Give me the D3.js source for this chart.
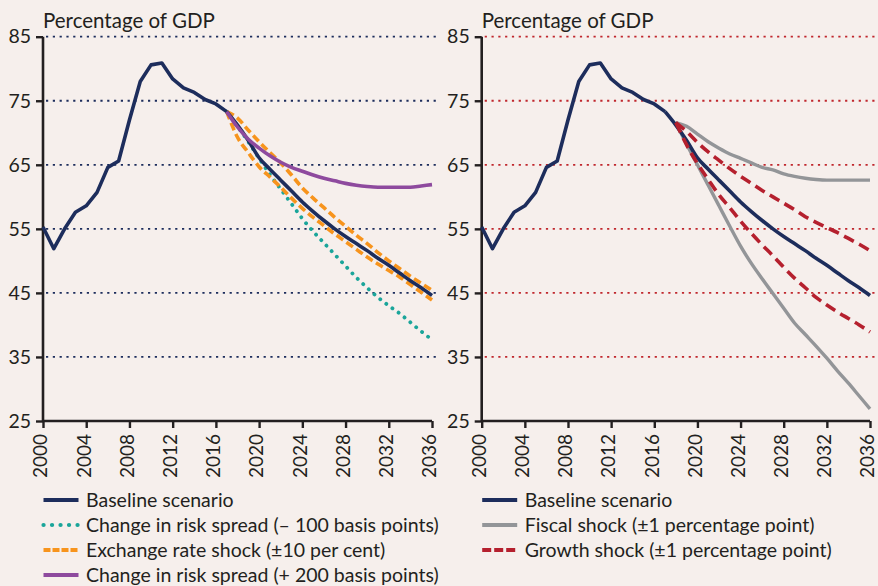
<!DOCTYPE html>
<html>
<head>
<meta charset="utf-8">
<script src="https://cdn.jsdelivr.net/npm/d3@7/dist/d3.min.js"></script>
<style>
  html, body { margin: 0; padding: 0; background: #F6EFEC; }
  svg { display: block; }
  text { font-family: Lato, "Open Sans", sans-serif; fill: #231F20; }
</style>
</head>
<body>
<svg id="chart" width="878" height="586"></svg>
<script>
// ---------- DATA ----------
const years = [2000,2001,2002,2003,2004,2005,2006,2007,2008,2009,2010,2011,2012,2013,2014,2015,2016,2017,2018,2019,2020,2021,2022,2023,2024,2025,2026,2027,2028,2029,2030,2031,2032,2033,2034,2035,2036];
const baseline = [55.3,51.9,55.0,57.6,58.6,60.7,64.6,65.6,72.0,78.0,80.6,80.9,78.4,77.0,76.3,75.2,74.5,73.3,71.2,68.8,66.1,64.3,62.6,60.9,59.2,57.7,56.3,55.0,53.8,52.7,51.6,50.4,49.3,48.1,46.9,45.8,44.6];

// Left panel scenarios (2017-2036)
const leftYears = [2017,2018,2019,2020,2021,2022,2023,2024,2025,2026,2027,2028,2029,2030,2031,2032,2033,2034,2035,2036];
const riskMinus100 = [73.3,71.0,68.6,66.0,63.5,61.2,58.9,56.6,54.6,52.8,51.0,49.2,47.4,45.8,44.3,43.0,41.8,40.4,39.0,37.7];
const fxUpper = [73.3,72.3,70.4,68.6,66.9,65.3,63.4,61.4,59.8,58.3,56.8,55.4,54.0,52.7,51.3,50.0,48.8,47.6,46.5,45.4];
const fxLower = [73.3,69.3,66.9,64.7,63.1,61.5,59.8,58.2,56.8,55.5,54.2,53.0,51.8,50.6,49.5,48.5,47.5,46.3,45.1,43.9];
const riskPlus200 = [73.3,70.9,69.0,67.6,66.4,65.4,64.6,64.0,63.4,62.9,62.5,62.1,61.8,61.6,61.5,61.5,61.5,61.5,61.7,61.9];

// Right panel scenarios (2018-2036)
const rightYears = [2018,2019,2020,2021,2022,2023,2024,2025,2026,2027,2028,2029,2030,2031,2032,2033,2034,2035,2036];
const fiscalUpper = [71.6,71.0,69.8,68.6,67.6,66.7,66.0,65.3,64.6,64.2,63.6,63.2,62.9,62.7,62.6,62.6,62.6,62.6,62.6];
const fiscalLower = [71.6,68.2,65.0,61.8,58.6,55.4,52.3,49.6,47.2,44.9,42.6,40.3,38.5,36.7,34.8,32.8,30.9,28.9,26.9];
const growthUpper = [71.6,70.2,68.5,67.0,65.7,64.4,63.2,62.1,61.0,60.0,59.0,58.0,56.9,56.0,55.2,54.4,53.5,52.6,51.6];
const growthLower = [71.6,68.1,65.2,62.7,60.3,58.3,56.2,54.3,52.5,50.8,49.0,47.3,45.8,44.3,43.1,42.0,41.0,40.0,38.9];

const yTicks = [25,35,45,55,65,75,85];
const xTicks = [2000,2004,2008,2012,2016,2020,2024,2028,2032,2036];
const yTitle = "Percentage of GDP";

const leftLegend = [
  {label: "Baseline scenario", key: "base"},
  {label: "Change in risk spread (\u2013 100 basis points)", key: "teal"},
  {label: "Exchange rate shock (\u00b110 per cent)", key: "orange"},
  {label: "Change in risk spread (+ 200 basis points)", key: "purple"}
];
const rightLegend = [
  {label: "Baseline scenario", key: "base"},
  {label: "Fiscal shock (\u00b11 percentage point)", key: "gray"},
  {label: "Growth shock (\u00b11 percentage point)", key: "red"}
];

// ---------- STYLES ----------
const styles = {
  base:   {stroke: "#1D2D5C", width: 3.6, dash: null, cap: "butt"},
  teal:   {stroke: "#1AA59A", width: 3.8, dash: "0.1,7.5", cap: "round"},
  orange: {stroke: "#F7941D", width: 3.6, dash: "8,4", cap: "butt"},
  purple: {stroke: "#8E4A9E", width: 3.6, dash: null, cap: "butt"},
  gray:   {stroke: "#939598", width: 3.4, dash: null, cap: "butt"},
  red:    {stroke: "#B5202E", width: 3.6, dash: "11,6", cap: "butt"}
};

const svg = d3.select("#chart");
const axisColor = "#231F20";

function panel(opts) {
  const g = svg.append("g");
  const x = d3.scaleLinear().domain([2000, 2036]).range([opts.x0, opts.x1]);
  const y = d3.scaleLinear().domain([25, 85]).range([421, 36.7]);

  // gridlines
  g.selectAll("line.grid").data(yTicks.filter(d => d > 25)).join("line")
    .attr("x1", opts.x0 + 3).attr("x2", opts.gridEnd)
    .attr("y1", d => y(d)).attr("y2", d => y(d))
    .attr("stroke", opts.gridColor).attr("stroke-width", 1.8)
    .attr("stroke-dasharray", "2.2,4.6");

  // y axis
  const ya = g.append("g").attr("transform", `translate(${opts.x0},0)`)
    .call(d3.axisLeft(y).tickValues(yTicks).tickSize(7).tickPadding(5));
  ya.select(".domain").attr("stroke", axisColor).attr("stroke-width", 2.6).attr("d", `M0,${y(85)}V${y(25)}`);
  ya.selectAll(".tick line").attr("stroke", axisColor).attr("stroke-width", 2.4);
  ya.selectAll(".tick text").style("font-size", "19.5px").style("font-family", "Lato").attr("fill", axisColor);

  // x axis
  const xa = g.append("g").attr("transform", `translate(0,${y(25)})`)
    .call(d3.axisBottom(x).tickValues(xTicks).tickFormat(d3.format("d")).tickSize(7));
  xa.select(".domain").attr("stroke", axisColor).attr("stroke-width", 2.6).attr("d", `M${opts.x0},0H${opts.x1}`);
  xa.selectAll(".tick line").attr("stroke", axisColor).attr("stroke-width", 2.4);
  xa.selectAll(".tick text")
    .style("font-size", "19px").style("font-family", "Lato").attr("fill", axisColor)
    .attr("text-anchor", "end").attr("dy", "0.2em")
    .attr("transform", "translate(0,13) rotate(-90)").attr("x", 0).attr("y", 0);

  // title
  g.append("text").attr("x", opts.x0).attr("y", 28)
    .style("font-size", "20.5px").text(yTitle);

  const line = d3.line().x(d => x(d[0])).y(d => y(d[1]));
  const smooth = d3.line().x(d => x(d[0])).y(d => y(d[1])).curve(d3.curveMonotoneX);

  function draw(xs, vs, key, gen) {
    const s = styles[key];
    g.append("path").datum(xs.map((yr, i) => [yr, vs[i]]))
      .attr("d", gen).attr("fill", "none")
      .attr("stroke", s.stroke).attr("stroke-width", s.width)
      .attr("stroke-dasharray", s.dash).attr("stroke-linecap", s.cap)
      .attr("stroke-linejoin", "round");
  }
  const histYears = years.filter(yr => yr <= 2017);
  const histVals = baseline.slice(0, histYears.length);
  const projYears = years.filter(yr => yr >= 2017);
  const projVals = baseline.slice(histYears.length - 1);
  opts.drawScenarios(draw, line, smooth, () => {
    draw(histYears, histVals, "base", line);
    draw(projYears, projVals, "base", smooth);
  });

  // legend
  const lg = g.append("g");
  opts.legend.forEach((item, i) => {
    const ly = 500 + i * 25;
    const s = styles[item.key];
    lg.append("line").attr("x1", opts.x0 + 0.5).attr("x2", opts.x0 + 35.5)
      .attr("y1", ly).attr("y2", ly)
      .attr("stroke", s.stroke).attr("stroke-width", s.width + 0.4)
      .attr("stroke-dasharray", item.key === "teal" ? "0.1,8.4" : (item.key === "red" ? "9,3" : (item.key === "orange" ? "7,2" : null)))
      .attr("stroke-linecap", s.cap);
    lg.append("text").attr("x", opts.x0 + 43).attr("y", ly).attr("dy", "0.35em")
      .style("font-size", "19.5px").text(item.label);
  });
}

panel({
  x0: 43, x1: 432, gridEnd: 438, gridColor: "#1D2D5C", legend: leftLegend,
  drawScenarios: (draw, line, smooth, drawBase) => {
    draw(leftYears, riskMinus100, "teal", smooth);
    draw(leftYears, fxUpper, "orange", smooth);
    draw(leftYears, fxLower, "orange", smooth);
    drawBase();
    draw(leftYears, riskPlus200, "purple", smooth);
  }
});
panel({
  x0: 481.7, x1: 870, gridEnd: 878, gridColor: "#C0272D", legend: rightLegend,
  drawScenarios: (draw, line, smooth, drawBase) => {
    draw(rightYears, fiscalUpper, "gray", smooth);
    draw(rightYears, fiscalLower, "gray", smooth);
    drawBase();
    draw(rightYears, growthUpper, "red", smooth);
    draw(rightYears, growthLower, "red", smooth);
  }
});
</script>
</body>
</html>
